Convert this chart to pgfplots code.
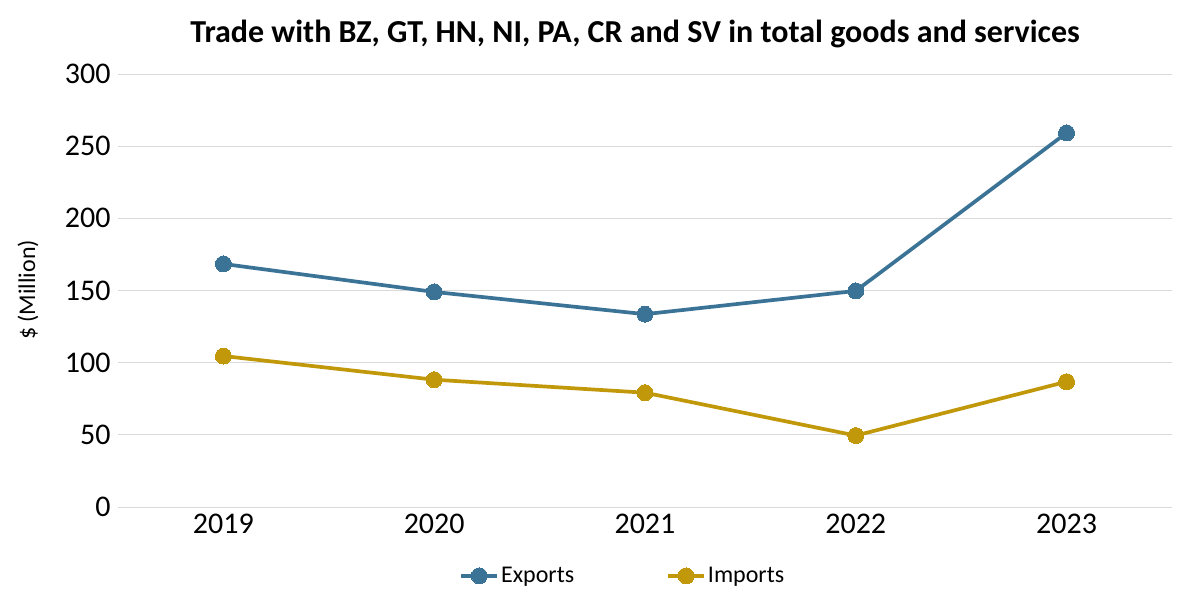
\documentclass[border=0pt]{standalone}
\usepackage{fontspec}
\setmainfont{Carlito}
\usepackage{pgfplots}
\pgfplotsset{compat=1.18}
\definecolor{expc}{RGB}{59,115,150}
\definecolor{impc}{RGB}{193,152,10}
\definecolor{gridc}{RGB}{217,217,217}
\begin{document}
\begin{tikzpicture}
\path[use as bounding box] (-118pt,-97pt) rectangle (1070pt,507pt);
\begin{axis}[
  at={(0pt,0pt)}, anchor=south west,
  scale only axis, width=1054pt, height=433pt,
  xmin=-0.5, xmax=4.5, ymin=0, ymax=300,
  xtick={0,...,4}, xticklabels={2019,2020,2021,2022,2023},
  ytick={0,50,...,300},
  ymajorgrids, grid style={draw=gridc, line width=0.9pt},
  axis line style={draw=none},
  major tick length=0pt,
  tick label style={font=\fontsize{30}{30}\selectfont},
  /pgf/number format/assume math mode=true,
  yticklabel style={xshift=-4pt},
  xticklabel style={yshift=-4pt},
  legend style={at={(0.479,-0.159)}, anchor=center, draw=none, fill=none,
    legend columns=2, font=\fontsize{24}{24}\selectfont,
    /tikz/every even column/.append style={column sep=90pt}},
  legend image code/.code={
    \draw[#1, mark=none] (0pt,0pt) -- (36pt,0pt);
    \draw[#1, only marks] plot coordinates {(18pt,0pt)};
  },
]
\addplot[color=expc, line width=3.7pt, mark=*, mark size=8pt, mark options={fill=expc, draw=expc, line width=0pt}]
  coordinates {(0,168.4) (1,149.0) (2,133.6) (3,149.7) (4,259.2)};
\addlegendentry{Exports}
\addplot[color=impc, line width=3.7pt, mark=*, mark size=8pt, mark options={fill=impc, draw=impc, line width=0pt}]
  coordinates {(0,104.6) (1,88.2) (2,79.2) (3,49.5) (4,86.8)};
\addlegendentry{Imports}
\end{axis}
\node[font=\bfseries\fontsize{32}{32}\selectfont] at (517pt,473pt) {Trade with BZ, GT, HN, NI, PA, CR and SV in total goods and services};
\node[rotate=90, font=\fontsize{24}{24}\selectfont] at (-90pt,217pt) {\$ (Million)};
\end{tikzpicture}
\end{document}
